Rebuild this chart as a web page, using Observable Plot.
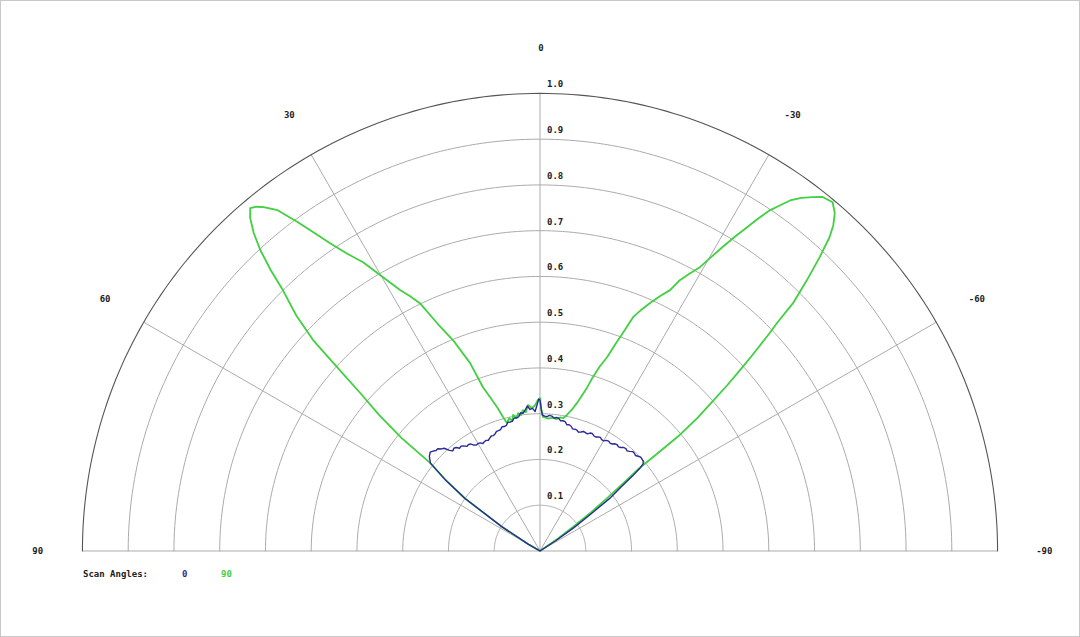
<!DOCTYPE html>
<html>
<head>
<meta charset="utf-8">
<script src="https://cdn.jsdelivr.net/npm/d3@7"></script>
<script src="https://cdn.jsdelivr.net/npm/@observablehq/plot@0.6"></script>
<style>
  html, body { margin: 0; padding: 0; background: #fff; }
  #frame { position: relative; width: 1080px; height: 637px; box-sizing: border-box; border: 1px solid #c8c8c8; overflow: hidden; }
  #chart { position: absolute; left: -1px; top: -1px; }
  .legend { position: absolute; top: 567px; font-family: "DejaVu Sans Mono", monospace; font-weight: bold; font-size: 9px; line-height: 12px; white-space: pre; }
</style>
</head>
<body>
<div id="frame">
  <div id="chart"></div>
</div>
<script>
// ---- data (angle in degrees, positive = left; value = normalised gain) ----
const blueName = "0";
const blueAngles = [90, 61, 60, 57.5, 55, 53, 51.3, 49.5, 48, 47, 46, 45, 44, 43, 42, 41, 40, 39, 38, 37, 36, 35, 34, 33, 32, 31, 30, 29, 28, 27, 26, 25, 24, 23, 22, 21, 20, 19, 18, 17, 16, 15, 14, 13, 12, 11, 10, 9, 8, 7, 6, 5, 4, 3, 2, 1, 0.5, 0, -0.5, -1, -2, -3, -4, -5, -6, -7, -8, -9, -10, -11, -12, -13, -14, -15, -16, -17, -18, -19, -20, -21, -22, -23, -24, -25, -26, -27, -28, -29, -30, -31, -32, -33, -34, -35, -36, -37, -38, -39, -40, -41, -42, -43, -44, -45, -46, -47, -48, -49, -49.8, -50.3, -51, -51.7, -53, -54, -55.5, -57, -90];
const blueValues = [0, 0, 0.03, 0.1, 0.2, 0.26, 0.307, 0.318, 0.323, 0.32, 0.316, 0.316, 0.31, 0.307, 0.296, 0.29, 0.293, 0.291, 0.285, 0.287, 0.284, 0.279, 0.28, 0.279, 0.273, 0.27, 0.271, 0.27, 0.266, 0.268, 0.269, 0.267, 0.27, 0.273, 0.272, 0.274, 0.278, 0.278, 0.279, 0.284, 0.283, 0.284, 0.29, 0.289, 0.29, 0.296, 0.295, 0.297, 0.305, 0.303, 0.31, 0.318, 0.31, 0.312, 0.305, 0.322, 0.332, 0.33, 0.31, 0.297, 0.295, 0.294, 0.297, 0.296, 0.292, 0.294, 0.293, 0.288, 0.289, 0.288, 0.282, 0.283, 0.281, 0.276, 0.277, 0.276, 0.273, 0.275, 0.278, 0.277, 0.276, 0.28, 0.281, 0.278, 0.277, 0.28, 0.281, 0.278, 0.278, 0.282, 0.283, 0.281, 0.282, 0.286, 0.287, 0.285, 0.287, 0.291, 0.292, 0.29, 0.293, 0.297, 0.297, 0.295, 0.298, 0.301, 0.3, 0.299, 0.295, 0.285, 0.26, 0.225, 0.19, 0.135, 0.09, 0.04, 0, 0];

const greenName = "90";
const greenAngles = [90, 61, 60, 57.5, 55, 53, 51.3, 50.8, 49.8, 48.7, 47.8, 47.1, 46, 44.6, 43.8, 42.9, 42, 41, 40.2, 39.5, 38.8, 37.6, 36.4, 35.3, 34.3, 33, 31.5, 30.1, 28.2, 27, 25.8, 24.3, 22.4, 20.4, 19.2, 17.8, 16.6, 15.5, 14.5, 13, 12, 11.2, 10, 9, 8, 6.9, 5.8, 4.7, 3.2, 2, 0.8, 0, -0.5, -1.3, -3.4, -5.5, -7, -8.5, -10, -11.2, -12, -13, -14, -15, -16.1, -16.9, -18, -19.1, -20, -20.8, -21.7, -22.8, -23.9, -25.2, -26.5, -27.3, -28.4, -29.4, -30.2, -31, -31.8, -32.6, -33.3, -34, -34.8, -35.5, -36.5, -37.6, -38.6, -40, -41.1, -42, -42.7, -43.6, -44.6, -45.6, -46.1, -46.5, -47.2, -47.8, -48.5, -49.1, -49.8, -50.3, -50.3, -50.2, -51, -51.7, -53, -54, -55.5, -57, -90];
const greenValues = [0, 0, 0.03, 0.1, 0.2, 0.26, 0.307, 0.39, 0.46, 0.523, 0.6, 0.677, 0.74, 0.8, 0.85, 0.898, 0.935, 0.966, 0.981, 0.975, 0.964, 0.94, 0.893, 0.85, 0.814, 0.775, 0.74, 0.697, 0.647, 0.625, 0.6, 0.546, 0.498, 0.438, 0.379, 0.35, 0.328, 0.305, 0.289, 0.298, 0.29, 0.303, 0.296, 0.305, 0.3, 0.31, 0.305, 0.32, 0.313, 0.318, 0.33, 0.334, 0.31, 0.293, 0.29, 0.293, 0.29, 0.295, 0.295, 0.303, 0.31, 0.32, 0.333, 0.35, 0.372, 0.397, 0.425, 0.448, 0.48, 0.509, 0.55, 0.572, 0.592, 0.615, 0.637, 0.666, 0.69, 0.712, 0.743, 0.775, 0.808, 0.84, 0.87, 0.898, 0.92, 0.941, 0.96, 0.976, 0.99, 0.995, 0.98, 0.958, 0.933, 0.886, 0.83, 0.774, 0.72, 0.692, 0.64, 0.595, 0.545, 0.497, 0.45, 0.397, 0.33, 0.28, 0.23, 0.19, 0.135, 0.09, 0.04, 0, 0];

const radialTicks = [0.1, 0.2, 0.3, 0.4, 0.5, 0.6, 0.7, 0.8, 0.9, 1.0];
const angleTicks = [90, 60, 30, 0, -30, -60, -90];
const angleTickLabels = ["90", "60", "30", "0", "-30", "-60", "-90"];
const legendTitle = "Scan Angles:";

// ---- colours & geometry settings ----
const blueColor = "#2a2a98";
const greenColor = "#40d040";
const W = 1080, H = 562, CX = 540, CY = 551, RPX = 458;
const FONT = "DejaVu Sans Mono";

const rad = a => a * Math.PI / 180;
const px = (a, r) => -r * Math.sin(rad(a));
const py = (a, r) => r * Math.cos(rad(a));

const blue = blueAngles.map((a, i) => ({a, r: blueValues[i]}));
const green = greenAngles.map((a, i) => ({a, r: greenValues[i]}));

// grid semicircles
const gridSteps = d3.range(-90, 90.5, 1);
const rings = radialTicks.flatMap(r => gridSteps.map(a => ({a, r})));

const plot = Plot.plot({
  width: W,
  height: H,
  margin: 0,
  x: {domain: [-CX / RPX, (W - CX) / RPX], range: [0, W], axis: null},
  y: {domain: [-(H - CY) / RPX, CY / RPX], range: [H, 0], axis: null},
  style: {background: "transparent", overflow: "visible"},
  marks: [
    Plot.line(rings.filter(d => d.r < 0.99), {
      x: d => px(d.a, d.r), y: d => py(d.a, d.r), z: "r",
      stroke: "#ababab", strokeWidth: 1
    }),
    Plot.link(angleTicks, {
      x1: 0, y1: 0,
      x2: a => px(a, 1), y2: a => py(a, 1),
      stroke: "#ababab", strokeWidth: 1
    }),
    Plot.line(rings.filter(d => d.r >= 0.99), {
      x: d => px(d.a, d.r), y: d => py(d.a, d.r),
      stroke: "#555", strokeWidth: 1.1
    }),
    Plot.text(radialTicks, {
      x: 0, y: d => d, text: d => d.toFixed(1),
      dx: 7, dy: -9, textAnchor: "start",
      fontFamily: FONT, fontWeight: "bold", fontSize: 9, fill: "#222"
    }),
    Plot.text(angleTicks, {
      x: a => px(a, 1.1), y: a => py(a, 1.1),
      text: (a, i) => angleTickLabels[i],
      dx: 1, textAnchor: "middle",
      fontFamily: FONT, fontWeight: "bold", fontSize: 9, fill: "#222"
    }),
    Plot.line(green, {
      x: d => px(d.a, d.r), y: d => py(d.a, d.r),
      stroke: greenColor, strokeWidth: 1.8, curve: "linear"
    }),
    Plot.line(blue, {
      x: d => px(d.a, d.r), y: d => py(d.a, d.r),
      stroke: blueColor, strokeWidth: 1.4, curve: "linear"
    })
  ]
});
document.getElementById("chart").appendChild(plot);

// legend below the plot
const frame = document.getElementById("frame");
const items = [
  {text: legendTitle, left: 82, color: "#222"},
  {text: blueName, left: 181, color: blueColor},
  {text: greenName, left: 220, color: greenColor}
];
for (const it of items) {
  const s = document.createElement("div");
  s.className = "legend";
  s.style.left = it.left + "px";
  s.style.color = it.color;
  s.textContent = it.text;
  frame.appendChild(s);
}
</script>
</body>
</html>
